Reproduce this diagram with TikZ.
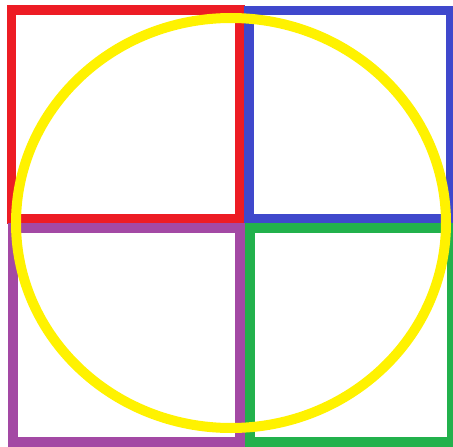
\documentclass[tikz,border=0pt]{standalone}
\usepackage{xcolor}
\definecolor{quadred}{HTML}{ED1C24}
\definecolor{quadblue}{HTML}{3F48CC}
\definecolor{quadpurple}{HTML}{A349A4}
\definecolor{quadgreen}{HTML}{22B14C}
\definecolor{ringyellow}{HTML}{FFF200}
\tikzset{
    % the four boxes
    quadbox/.style={line width=9.5pt},
    % the ring over them
    ring/.style={line width=10pt, draw=ringyellow},
}
\begin{document}
\begin{tikzpicture}[x=1pt,y=-1pt]
 \useasboundingbox (0,0) rectangle (453,447);
 % boxes
    \draw[quadbox, draw=quadred] (11.5,10) rectangle (240,219);
    \draw[quadbox, draw=quadblue] (249,10.5) rectangle (450.5,219);
    \draw[quadbox, draw=quadpurple] (13,228) rectangle (240,442);
    \draw[quadbox, draw=quadgreen] (250,228) rectangle (451.5,442);

 % ring
    \draw[ring] (231,223) ellipse [x radius=215pt, y radius=205pt];
\end{tikzpicture}
\end{document}
